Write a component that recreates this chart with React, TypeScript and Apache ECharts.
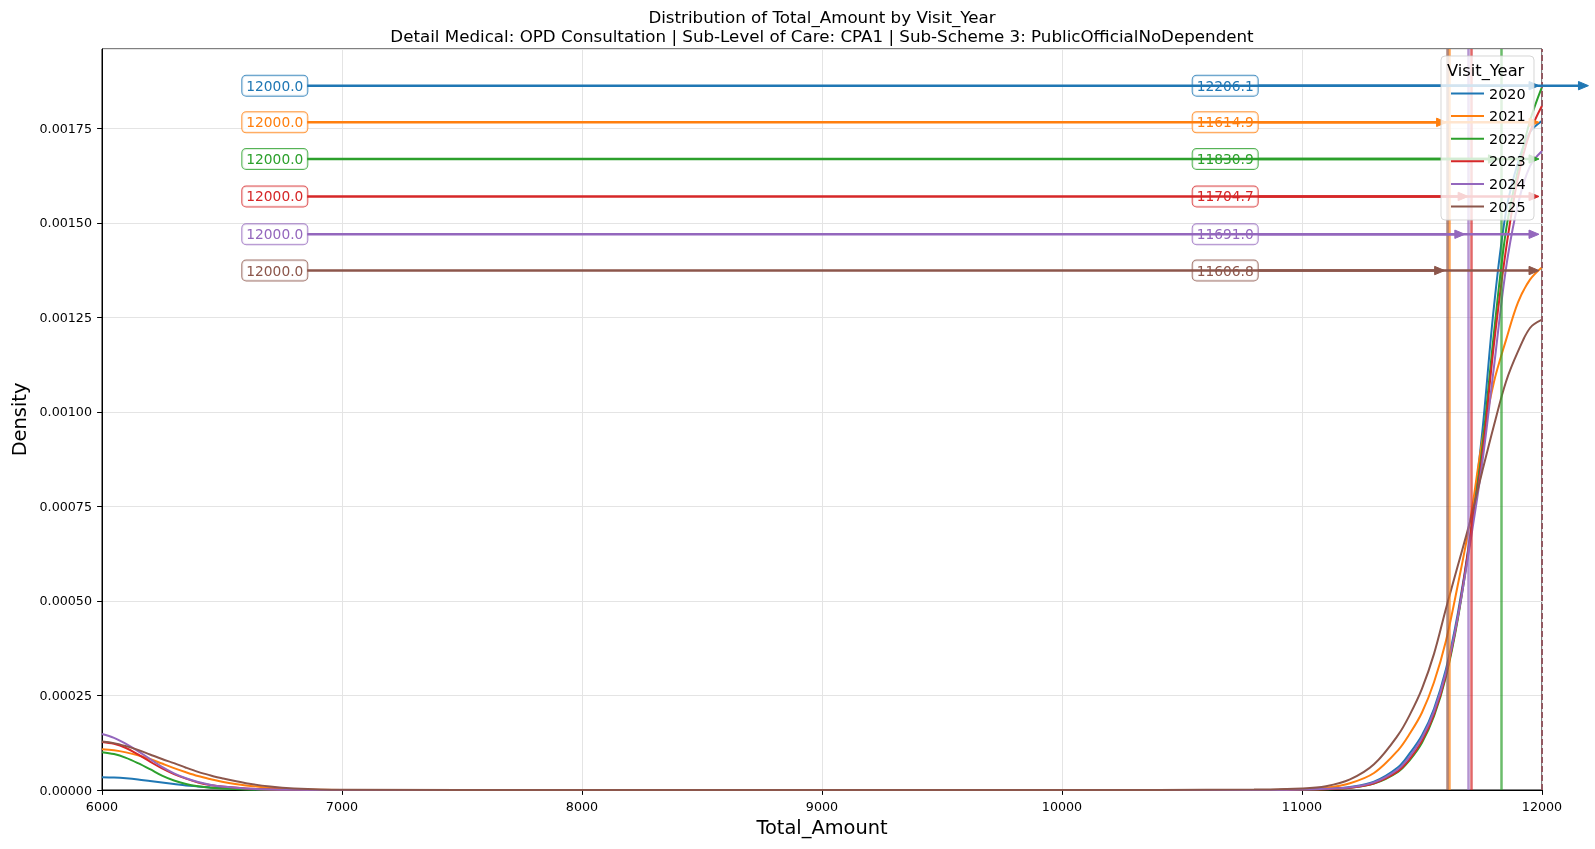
import React, { useEffect, useRef } from "react";
import * as echarts from "echarts";

const years = ["2020", "2021", "2022", "2023", "2024", "2025"];
const colors = ["#1f77b4", "#ff7f0e", "#2ca02c", "#d62728", "#9467bd", "#8c564b"];

const xGrid = [6000, 6050, 6100, 6150, 6200, 6250, 6300, 6350, 6400, 6450, 6500, 6600, 6700, 6800, 7000, 8000, 9000, 10000, 10800,
  11000, 11100, 11200, 11300, 11400, 11450, 11500, 11550, 11600, 11650, 11700, 11750, 11800, 11850, 11900, 11950, 12000];

const kde2020 = [0.000034, 0.000033, 0.000031, 0.000028, 0.000024, 0.00002, 0.000016, 0.000012, 0.0000095, 0.000007, 0.000005, 0.0000025, 0.000001, 0.0000003, 0, 0, 0, 0, 0,
  0.000001, 0.000003, 0.000008, 0.000022, 0.00006, 0.000098, 0.000145, 0.000215, 0.00032, 0.00047, 0.00067, 0.00094, 0.00128, 0.00153, 0.00166, 0.00174, 0.00177];
const kde2021 = [0.000108, 0.000105, 0.0000995, 0.000092, 0.000082, 0.00007, 0.000058, 0.000047, 0.000037, 0.000029, 0.000022, 0.000012, 0.000006, 0.000002, 0, 0, 0, 0, 0,
  0.000002, 0.000006, 0.000018, 0.000045, 0.000105, 0.00015, 0.000205, 0.000285, 0.000395, 0.000545, 0.00071, 0.00092, 0.00108, 0.00119, 0.00129, 0.00135, 0.001383];
const kde2022 = [0.0001, 0.000095, 0.000085, 0.000071, 0.000055, 0.000038, 0.000025, 0.000016, 0.00001, 0.000006, 0.000004, 0.0000015, 0.0000005, 0, 0, 0, 0, 0, 0,
  0.000001, 0.000002, 0.000006, 0.000017, 0.000048, 0.00008, 0.000125, 0.000195, 0.0003, 0.000455, 0.00066, 0.0009, 0.00121, 0.00148, 0.00164, 0.00177, 0.00186];
const kde2023 = [0.000127, 0.000122, 0.000111, 0.000094, 0.000075, 0.000057, 0.000042, 0.00003, 0.00002, 0.000013, 0.000009, 0.000004, 0.0000015, 0.0000005, 0, 0, 0, 0, 0,
  0.000001, 0.000002, 0.000006, 0.000018, 0.00005, 0.000083, 0.00013, 0.0002, 0.000305, 0.00046, 0.000665, 0.00088, 0.00118, 0.00143, 0.00162, 0.00174, 0.00181];
const kde2024 = [0.000148, 0.000138, 0.000122, 0.000103, 0.000082, 0.000061, 0.000044, 0.000031, 0.000021, 0.000014, 0.000009, 0.000004, 0.0000015, 0.0000005, 0, 0, 0, 0, 0,
  0.000001, 0.000003, 0.000007, 0.00002, 0.000055, 0.00009, 0.000138, 0.000208, 0.000312, 0.00046, 0.00065, 0.00086, 0.00112, 0.00138, 0.00155, 0.00165, 0.00169];
const kde2025 = [0.000128, 0.000124, 0.000116, 0.000106, 0.000094, 0.000082, 0.000071, 0.000059, 0.000048, 0.000039, 0.000031, 0.000018, 0.000009, 0.000004, 0.0000005, 0, 0, 0, 0.000001,
  0.000004, 0.00001, 0.000028, 0.000068, 0.000145, 0.0002, 0.000268, 0.00036, 0.00048, 0.000595, 0.00071, 0.00084, 0.000965, 0.00108, 0.00116, 0.001222, 0.001244];
const kdeByYear = [kde2020, kde2021, kde2022, kde2023, kde2024, kde2025];

const means = [12206.1, 11614.9, 11830.9, 11704.7, 11691.0, 11606.8];
const maxes = [12000, 12000, 12000, 12000, 12000, 12000];
const annotLevels = [0.001863, 0.001766, 0.001669, 0.00157, 0.00147, 0.001374];
const maxLabelX = 6720;
const meanLabelX = 10680;
const maxArrowStart = 6855;
const meanArrowStart = 10818;

const FONT = "DejaVu Sans";

function hexA(hex: string, a: number) {
  const r = parseInt(hex.slice(1, 3), 16), g = parseInt(hex.slice(3, 5), 16), b = parseInt(hex.slice(5, 7), 16);
  return `rgba(${r},${g},${b},${a})`;
}

export default function App() {
  const ref = useRef<HTMLDivElement>(null);
  useEffect(() => {
    document.body.style.margin = "0";
    const chart = echarts.init(ref.current!, null, { renderer: "svg" });
    const series: any[] = [];
    years.forEach((y, i) => {
      const c = colors[i];
      series.push({
        name: y,
        type: "line",
        z: 2,
        data: xGrid.map((x, k) => [x, kdeByYear[i][k]]),
        showSymbol: false,
        smooth: 0.35,
        lineStyle: { color: c, width: 2 },
        itemStyle: { color: c },
        markLine: {
          silent: true,
          z: 5,
          symbol: ["none", "none"],
          label: { show: false },
          data: [
            { xAxis: means[i], lineStyle: { color: c, width: 2.5, opacity: 0.7, type: "solid" } },
            { xAxis: maxes[i], lineStyle: { color: c, width: 1.5, opacity: 0.8, type: "dashed" } },
          ],
        },
      });
    });
    const arrowRows: number[][] = [];
    years.forEach((y, i) => {
      const c = colors[i];
      const lab = {
        show: true,
        position: "inside",
        color: c,
        opacity: 1,
        textBorderWidth: 0,
        textBorderColor: "transparent",
        textShadowBlur: 0,
        fontFamily: FONT,
        fontSize: 13.8,
        lineHeight: 15,
        backgroundColor: "rgba(255,255,255,0.8)",
        borderColor: hexA(c, 0.8),
        borderWidth: 1,
        borderRadius: 4,
        padding: [3, 4, 2, 4],
      };
      series.push({
        name: "lbl" + y,
        type: "scatter",
        z: 4,
        silent: true,
        symbol: "circle",
        symbolSize: 0,
        itemStyle: { color: c },
        data: [
          { value: [maxLabelX, annotLevels[i]], label: { ...lab, formatter: maxes[i].toFixed(1) } },
          { value: [meanLabelX, annotLevels[i]], label: { ...lab, formatter: means[i].toFixed(1) } },
        ],
      });
      arrowRows.push([maxArrowStart, maxes[i], annotLevels[i], i]);
      arrowRows.push([meanArrowStart, means[i], annotLevels[i], i]);
    });
    series.push({
      name: "arrows",
      type: "custom",
      z: 6,
      silent: true,
      clip: false,
      data: arrowRows,
      encode: { x: [0, 1], y: 2 },
      renderItem: (params: any, api: any) => {
        const x0 = api.value(0), x1 = api.value(1), yv = api.value(2), ci = api.value(3);
        const p0 = api.coord([x0, yv]);
        const p1 = api.coord([x1, yv]);
        const tip = p1[0] - 3;
        const L = 10, W = 4.2;
        const col = colors[ci];
        return {
          type: "group",
          children: [
            { type: "line", shape: { x1: p0[0], y1: p0[1], x2: tip - L + 1, y2: p1[1] }, style: { stroke: col, lineWidth: 2.5 } },
            { type: "polygon", shape: { points: [[tip, p1[1]], [tip - L, p1[1] - W], [tip - L, p1[1] + W]] }, style: { fill: col, stroke: col, lineWidth: 1 } },
          ],
        };
      },
    });

    chart.setOption({
      animation: false,
      textStyle: { fontFamily: FONT },
      grid: { left: 102, right: 53, top: 49, bottom: 59, show: true, borderColor: "#000", borderWidth: 1 },
      xAxis: {
        type: "value",
        min: 6000,
        max: 12000,
        interval: 1000,
        name: "Total_Amount",
        nameLocation: "middle",
        nameGap: 25,
        nameTextStyle: { fontSize: 19.4, color: "#000", fontFamily: FONT },
        axisLine: { lineStyle: { color: "#000", width: 1 } },
        axisTick: { show: true, length: 4.9, lineStyle: { color: "#000" } },
        axisLabel: { color: "#000", fontSize: 12.7, margin: 10, fontFamily: FONT, formatter: (v: number) => String(v) },
        splitLine: { show: true, lineStyle: { color: "#e4e4e4", width: 1 } },
      },
      yAxis: {
        type: "value",
        min: 0,
        max: 0.00196,
        interval: 0.00025,
        name: "Density",
        nameLocation: "middle",
        nameGap: 70,
        nameTextStyle: { fontSize: 19.4, color: "#000", fontFamily: FONT },
        axisLine: { show: true, lineStyle: { color: "#000", width: 1 } },
        axisTick: { show: true, length: 4.9, lineStyle: { color: "#000" } },
        axisLabel: { color: "#000", fontSize: 12.7, margin: 10, fontFamily: FONT, showMaxLabel: false, formatter: (v: number) => v.toFixed(5) },
        splitLine: { show: true, lineStyle: { color: "#e4e4e4", width: 1 } },
      },
      legend: {
        data: years,
        orient: "vertical",
        left: 1446,
        top: 80.5,
        z: 22,
        selectedMode: false,
        icon: "rect",
        itemWidth: 33,
        itemHeight: 2,
        itemGap: 6.6,
        textStyle: { fontSize: 14.4, color: "#000", fontFamily: FONT, lineHeight: 16 },
      },
      graphic: [
        {
          type: "text", z: 30, x: 822, y: 16.5,
          style: { text: "Distribution of Total_Amount by Visit_Year", font: `16.7px '${FONT}'`, fill: "#000", textAlign: "center", textVerticalAlign: "middle" },
        },
        {
          type: "text", z: 30, x: 822, y: 35.8,
          style: { text: "Detail Medical: OPD Consultation | Sub-Level of Care: CPA1 | Sub-Scheme 3: PublicOfficialNoDependent", font: `16.7px '${FONT}'`, fill: "#000", textAlign: "center", textVerticalAlign: "middle" },
        },
        {
          type: "rect", z: 20, silent: true,
          shape: { x: 1441, y: 56, width: 93, height: 164, r: 4 },
          style: { fill: "rgba(255,255,255,0.8)", stroke: "rgba(204,204,204,0.8)", lineWidth: 1 },
        },
        {
          type: "text", z: 21, x: 1447, y: 70,
          style: { text: "Visit_Year", font: `16.3px '${FONT}'`, fill: "#000", textAlign: "left", textVerticalAlign: "middle" },
        },
      ],
      series,
    });
    return () => chart.dispose();
  }, []);
  return <div ref={ref} style={{ position: "fixed", left: 0, top: 0, width: 1595, height: 849 }} />;
}
